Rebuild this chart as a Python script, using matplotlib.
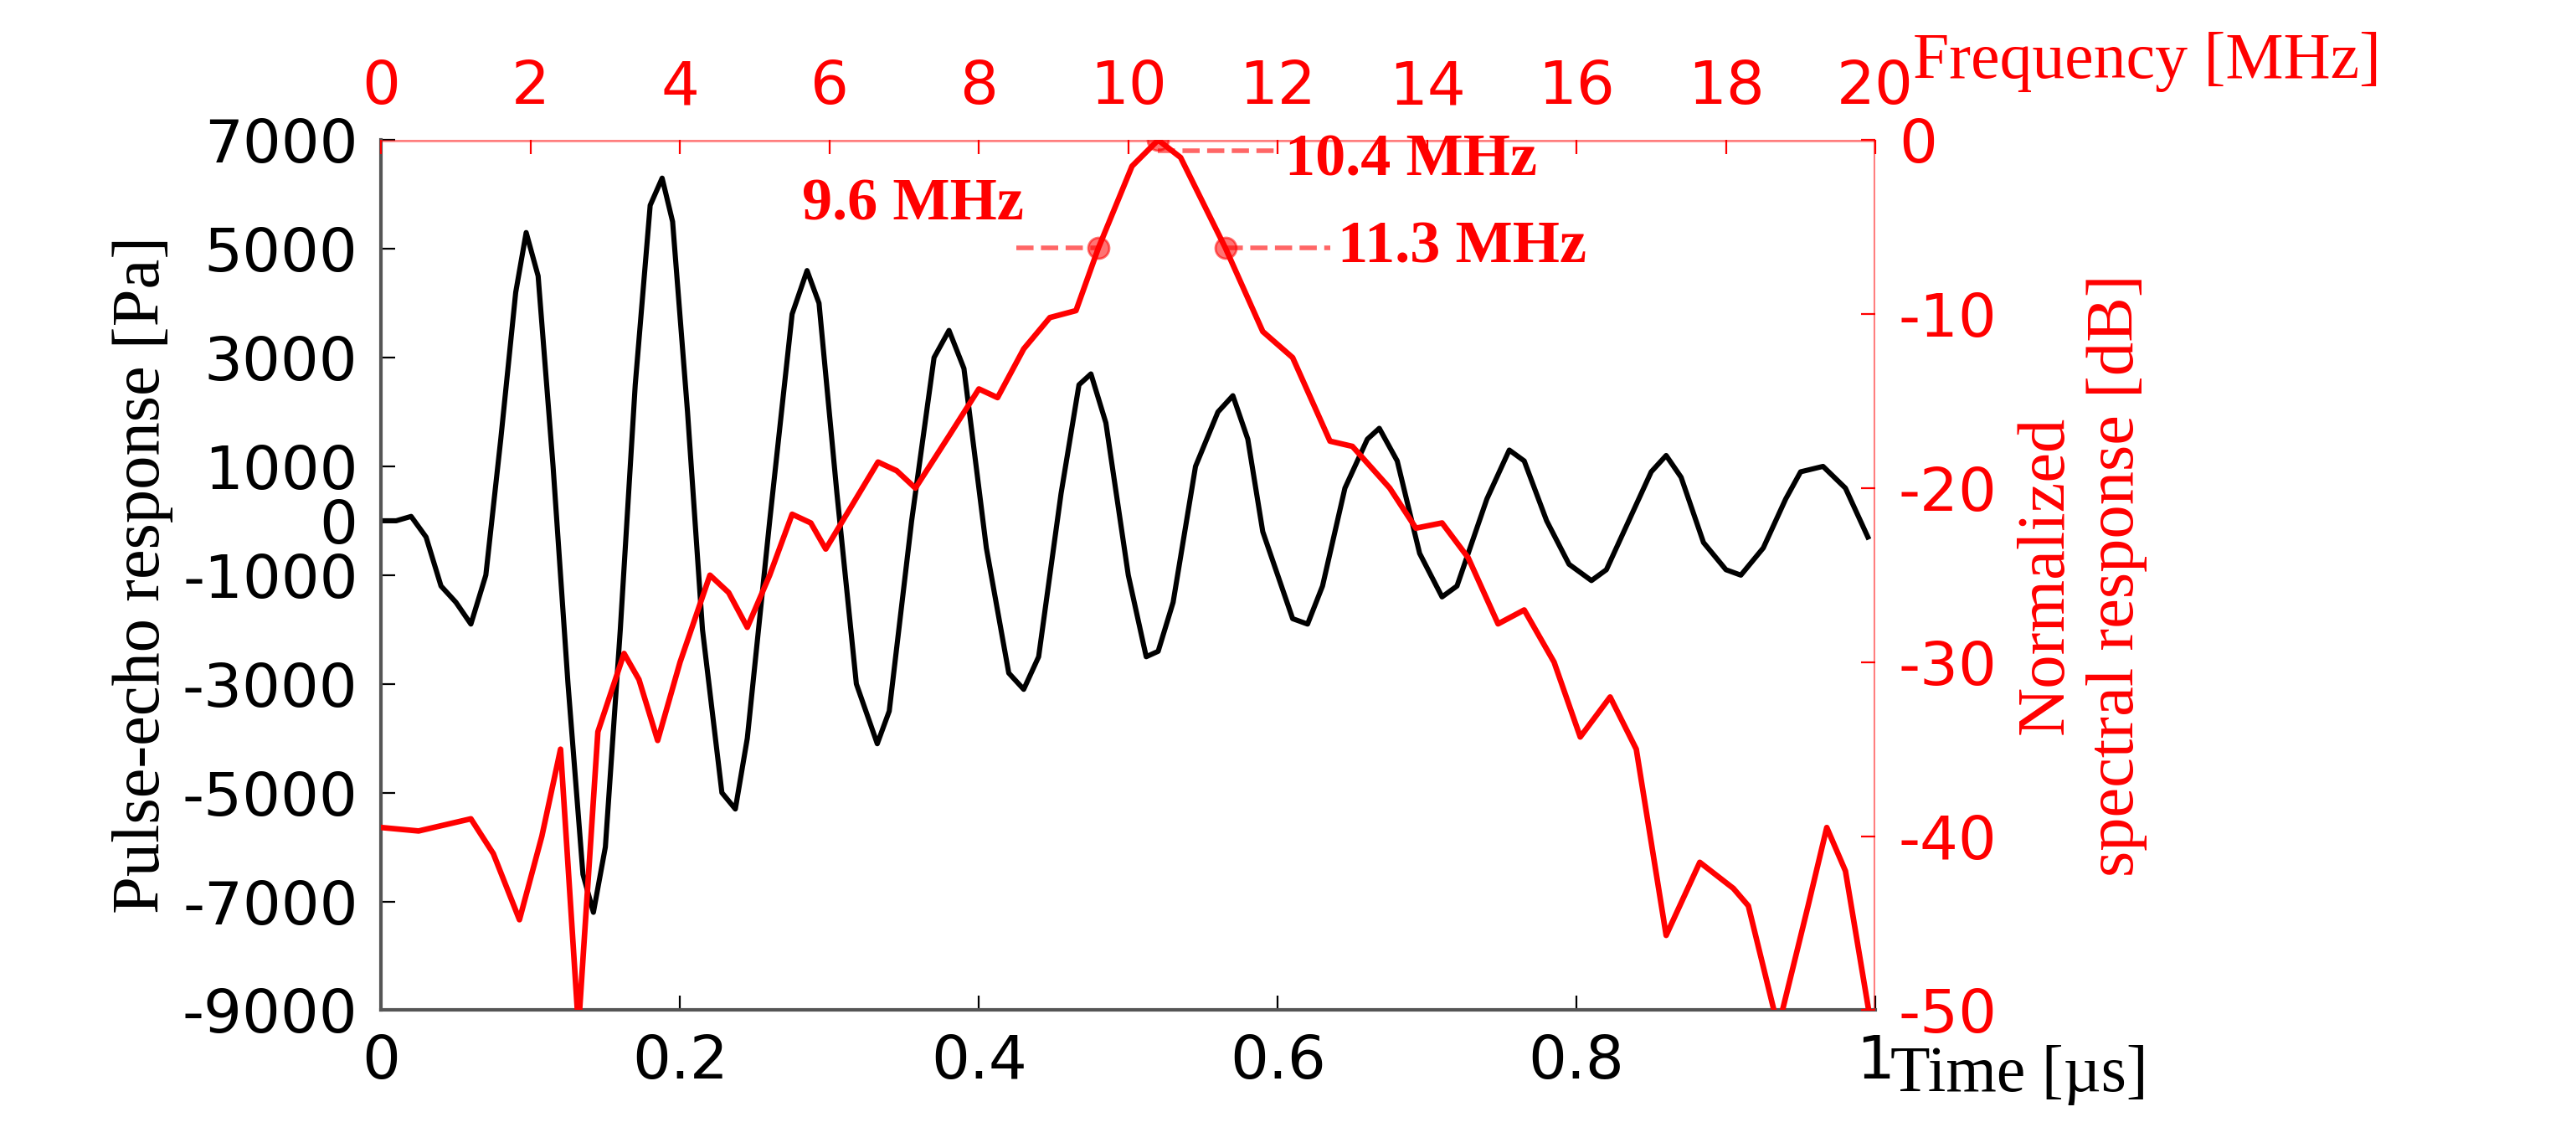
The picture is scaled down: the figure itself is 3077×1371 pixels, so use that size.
import matplotlib.pyplot as plt
import numpy as np

# pulse-echo signal (time in us, pressure in Pa)
time_us = [0, 0.01, 0.02, 0.03, 0.04, 0.05, 0.06, 0.07, 0.08, 0.09, 0.097, 0.105, 0.115, 0.125,
           0.135, 0.142, 0.15, 0.16, 0.17, 0.18, 0.188, 0.195, 0.205, 0.215, 0.228, 0.237, 0.245,
           0.26, 0.275, 0.285, 0.293, 0.305, 0.318, 0.332, 0.34, 0.355, 0.37, 0.38, 0.39, 0.405,
           0.42, 0.43, 0.44, 0.455, 0.467, 0.475, 0.485, 0.5, 0.512, 0.52, 0.53, 0.545, 0.56, 0.57,
           0.58, 0.59, 0.61, 0.62, 0.63, 0.645, 0.66, 0.668, 0.68, 0.695, 0.71, 0.72, 0.74, 0.755,
           0.765, 0.78, 0.795, 0.81, 0.82, 0.835, 0.85, 0.86, 0.87, 0.885, 0.9, 0.91, 0.925, 0.94,
           0.95, 0.965, 0.98, 0.995]
pressure = [0, 0, 80, -300, -1200, -1500, -1900, -1000, 1500, 4200, 5300, 4500, 1000, -3000,
            -6500, -7200, -6000, -2000, 2500, 5800, 6300, 5500, 2000, -2000, -5000, -5300, -4000,
            0, 3800, 4600, 4000, 500, -3000, -4100, -3500, 0, 3000, 3500, 2800, -500,
            -2800, -3100, -2500, 500, 2500, 2700, 1800, -1000, -2500, -2400, -1500, 1000, 2000, 2300,
            1500, -200, -1800, -1900, -1200, 600, 1500, 1700, 1100, -600, -1400, -1200, 400, 1300,
            1100, 0, -800, -1100, -900, 0, 900, 1200, 800, -400, -900, -1000, -500, 400,
            900, 1000, 600, -300]

# normalized spectrum (frequency in MHz, dB)
freq_mhz = [0, 0.5, 1.0, 1.2, 1.5, 1.85, 2.15, 2.4, 2.64, 2.9, 3.25, 3.45, 3.7, 4.0, 4.4, 4.65,
            4.9, 5.2, 5.5, 5.75, 5.95, 6.3, 6.65, 6.9, 7.15, 7.6, 8.0, 8.25, 8.6, 8.95, 9.3, 9.6,
            10.05, 10.4, 10.7, 11.3, 11.8, 12.2, 12.7, 13.0, 13.5, 13.85, 14.2, 14.55, 14.95,
            15.3, 15.7, 16.05, 16.45, 16.8, 17.2, 17.65, 18.1, 18.3, 18.7, 19.1, 19.35, 19.6, 19.95]
spectrum_db = [-39.5, -39.7, -39.2, -39, -41, -44.8, -40, -35, -51, -34, -29.5, -31, -34.5, -30, -25,
               -26, -28, -25, -21.5, -22, -23.5, -21, -18.5, -19, -20, -17, -14.3, -14.8, -12, -10.2,
               -9.8, -6.2, -1.5, 0, -1, -6.2, -11, -12.5, -17.3, -17.6, -20, -22.3, -22, -24, -27.8,
               -27, -30, -34.3, -32, -35, -45.7, -41.5, -43, -44, -51, -44, -39.5, -42, -51]

marker_freqs = [9.6, 10.4, 11.3]
marker_db = [-6.2, 0, -6.2]
marker_labels = ["9.6 MHz", "10.4 MHz", "11.3 MHz"]

plt.rcParams["axes.unicode_minus"] = False
red = "#ff0000"
fig = plt.figure(figsize=(15.385, 6.855), dpi=200)
pos = [0.148, 0.12, 0.58, 0.758]

ax = fig.add_axes(pos)
ax.plot(time_us, pressure, color="black", lw=2.2)
ax.set_xlim(0, 1)
ax.set_ylim(-9000, 7000)
ax.set_xticks([0, 0.2, 0.4, 0.6, 0.8, 1])
ax.set_xticklabels(["0", "0.2", "0.4", "0.6", "0.8", "1"])
ax.set_yticks([7000, 5000, 3000, 1000, 0, -1000, -3000, -5000, -7000, -9000])
ax.tick_params(direction="in", labelsize=26, length=6, pad=10)
for s in ["top", "right"]:
    ax.spines[s].set_visible(False)
for s in ["left", "bottom"]:
    ax.spines[s].set_color("#555555")
    ax.spines[s].set_linewidth(1.5)
ax.set_ylabel("Pulse-echo response [Pa]", family="Liberation Serif", fontsize=29, labelpad=4)
ax.text(1.01, -0.075, "Time [\u00b5s]", transform=ax.transAxes, family="Liberation Serif",
        fontsize=28, va="center", ha="left")

ax2 = fig.add_axes(pos, frameon=False)
ax2.plot(freq_mhz, spectrum_db, color=red, lw=2.4)
ax2.set_xlim(0, 20)
ax2.set_ylim(-50, 0)
ax2.xaxis.tick_top()
ax2.yaxis.tick_right()
ax2.yaxis.set_label_position("right")
ax2.set_xticks(np.arange(0, 21, 2))
ax2.set_yticks([0, -10, -20, -30, -40, -50])
ax2.tick_params(direction="in", colors=red, labelsize=26, length=6, pad=10)
ax2.axhline(0, color=red, lw=2, alpha=0.5)
ax2.axvline(20, color=red, lw=1.5, alpha=0.5)
ax2.set_ylabel("Normalized\nspectral response [dB]", family="Liberation Serif",
               fontsize=29, color=red, labelpad=8)
ax2.text(1.025, 1.09, "Frequency [MHz]", transform=ax2.transAxes, family="Liberation Serif",
         fontsize=28, color=red, va="center", ha="left")

ax2.plot(marker_freqs, marker_db, "o", color=red, ms=9, alpha=0.55)
ax2.plot([8.5, 9.6], [-6.2, -6.2], "--", color=red, lw=2, alpha=0.6)
ax2.plot([10.4, 12.0], [-0.6, -0.6], "--", color=red, lw=2, alpha=0.6)
ax2.plot([11.3, 12.7], [-6.2, -6.2], "--", color=red, lw=2, alpha=0.6)
tk = dict(family="Liberation Serif", fontsize=26, color=red, fontweight="bold")
ax2.text(8.6, -5.3, marker_labels[0], ha="right", va="bottom", **tk)
ax2.text(12.1, -1.2, marker_labels[1], ha="left", va="center", **tk)
ax2.text(12.8, -6.2, marker_labels[2], ha="left", va="center", **tk)

fig.savefig("out.png", dpi=200)
